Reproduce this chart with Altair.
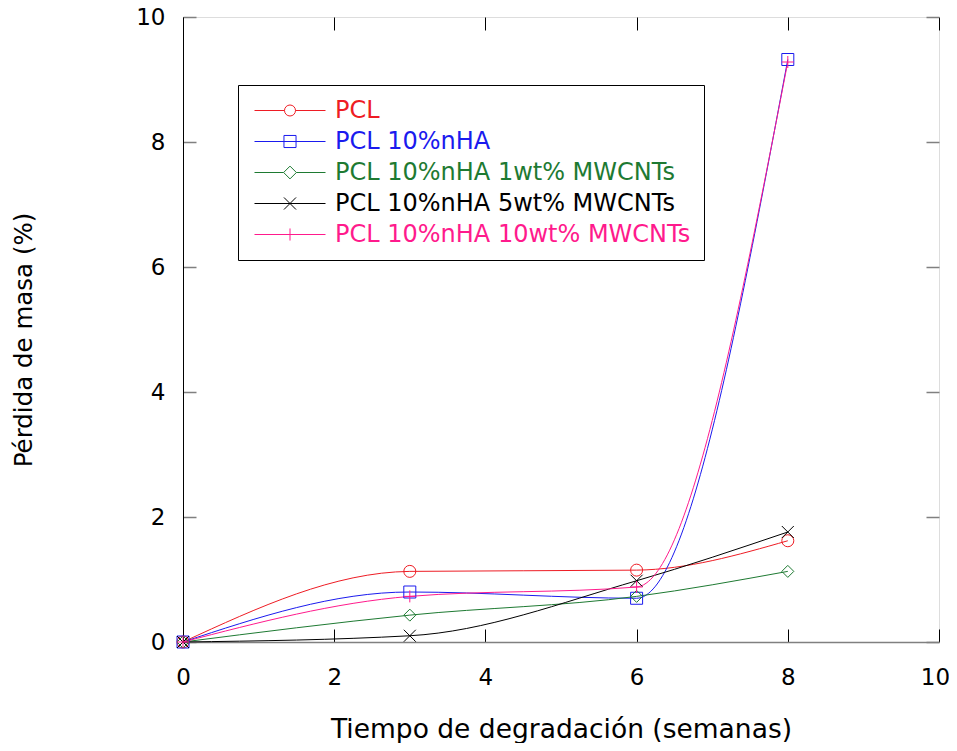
import altair as alt
import pandas as pd

# ---- data ----
weeks = [0, 3, 6, 8]
series = [
    "PCL",
    "PCL 10%nHA",
    "PCL 10%nHA 1wt% MWCNTs",
    "PCL 10%nHA 5wt% MWCNTs",
    "PCL 10%nHA 10wt% MWCNTs",
]
pcl = [0, 1.13, 1.15, 1.62]
pcl_nha = [0, 0.80, 0.70, 9.32]
pcl_nha_1 = [0, 0.43, 0.73, 1.13]
pcl_nha_5 = [0, 0.10, 0.98, 1.76]
pcl_nha_10 = [0, 0.73, 0.88, 9.28]
x_ticks = [0, 2, 4, 6, 8, 10]
y_ticks = [0, 2, 4, 6, 8, 10]

colors = ["#ee1c24", "#1a1aee", "#1e7a32", "#000000", "#ff1a8c"]
marker_shapes = [
    "circle",
    "square",
    "diamond",
    "M-1,-1L1,1M-1,1L1,-1",
    "M0,-1V1M-1,0H1",
]
legend_paths = [
    "M-1,0H-0.155M0.155,0H1M-0.155,0A0.155,0.155,0,1,1,0.155,0A0.155,0.155,0,1,1,-0.155,0",
    "M-1,0H1M-0.17,-0.17H0.17V0.17H-0.17Z",
    "M-1,0H-0.18M0.18,0H1M-0.18,0L0,-0.18L0.18,0L0,0.18Z",
    "M-1,0H1M-0.17,-0.17L0.17,0.17M-0.17,0.17L0.17,-0.17",
    "M-1,0H1M0,-0.17V0.17",
]

rows = []
for i, (name, vals) in enumerate(
    zip(series, [pcl, pcl_nha, pcl_nha_1, pcl_nha_5, pcl_nha_10])
):
    for w, v in zip(weeks, vals):
        rows.append({"serie": name, "marca": i, "semana": w, "perdida": v})
df = pd.DataFrame(rows)

FONT = "DejaVu Sans"
W, H = 756, 625

shape_expr = (
    "["
    + ",".join("'" + p + "'" for p in legend_paths)
    + "][indexof(domain('color'), datum.value)]"
)

legend = alt.Legend(
    title=None,
    orient="none",
    legendX=55,
    legendY=68,
    strokeColor="#000000",
    fillColor="#ffffff",
    padding=13,
    rowPadding=6,
    clipHeight=25,
    labelFont=FONT,
    labelFontSize=24,
    labelLimit=0,
    labelOffset=9,
    symbolOffset=3,
    symbolSize=5041,
    symbolStrokeWidth=1,
    symbolFillColor="transparent",
    symbolType={"expr": shape_expr},
    labelColor={"expr": "scale('color', datum.value)"},
)

x_enc = alt.X(
    "semana:Q",
    scale=alt.Scale(domain=[0, 10], nice=False),
    axis=alt.Axis(
        values=x_ticks,
        format="d",
        title="Tiempo de degradación (semanas)",
        ticks=False,
        grid=True,
        gridDash=[13, H - 26],
        gridColor="#000000",
        gridOpacity=1,
        gridWidth=1,
        domainColor="#808080",
        domainWidth=1.5,
        labelFont=FONT,
        labelFontSize=23,
        labelColor="#000000",
        labelPadding=24,
        labelFlush=False,
        labelOverlap=False,
        labelOffset={"condition": {"test": "datum.value == 10", "value": -4}, "value": 0},
        titleFont=FONT,
        titleFontSize=26.5,
        titleFontWeight="normal",
        titleColor="#000000",
        titleY=95,
        titleBaseline="alphabetic",
    ),
)
y_enc = alt.Y(
    "perdida:Q",
    scale=alt.Scale(domain=[0, 10], nice=False),
    axis=alt.Axis(
        values=y_ticks,
        format="d",
        title="Pérdida de masa (%)",
        ticks=False,
        grid=True,
        gridDash=[13, W - 26],
        gridColor="#808080",
        gridOpacity=1,
        gridWidth=1.5,
        domainColor="#000000",
        domainWidth=1,
        labelFont=FONT,
        labelFontSize=23,
        labelColor="#000000",
        labelPadding=18,
        labelFlush=False,
        labelOverlap=False,
        titleFont=FONT,
        titleFontSize=24.5,
        titleFontWeight="normal",
        titleColor="#000000",
        titleX=-152,
        titleY=H / 2 + 10,
        titleBaseline="alphabetic",
    ),
)
color_enc = alt.Color(
    "serie:N", scale=alt.Scale(domain=series, range=colors), legend=legend
)

base = alt.Chart(df).encode(x=x_enc, y=y_enc, color=color_enc)

lines = base.mark_line(interpolate="monotone", strokeWidth=1)
points = base.mark_point(filled=False, size=144, strokeWidth=1, opacity=1).encode(
    shape=alt.Shape(
        "marca:N",
        scale=alt.Scale(domain=list(range(len(series))), range=marker_shapes),
        legend=None,
    )
)

chart = (
    alt.layer(lines, points)
    .properties(
        width=W,
        height=H,
        autosize=alt.AutoSizeParams(type="none"),
        padding={"left": 175, "top": 9, "right": 10, "bottom": 101},
    )
    .configure_view(stroke="#000000", strokeWidth=1)
    .configure(background="white")
)

chart.save("out.html", embed_options={"renderer": "svg", "actions": False})
